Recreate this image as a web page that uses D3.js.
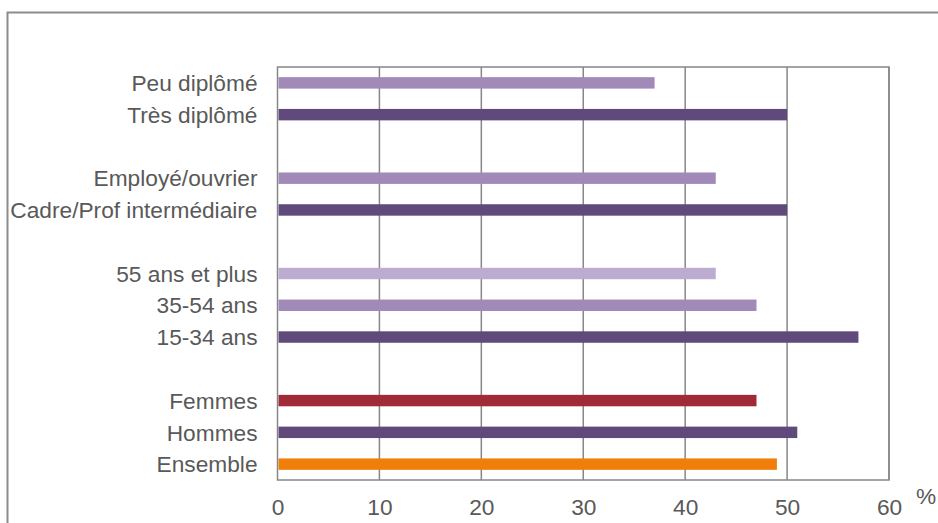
<!DOCTYPE html>
<html>
<head>
<meta charset="utf-8">
<script src="https://cdn.jsdelivr.net/npm/d3@7"></script>
<style>
  html, body { margin: 0; padding: 0; background: #fff; }
  svg { display: block; font-family: "Liberation Sans", Arial, sans-serif; }
</style>
</head>
<body>
<svg id="chart" width="938" height="523"></svg>
<script>
// Rows from top to bottom; null marks a blank spacer row between groups
const categories = ["Peu diplômé", "Très diplômé", null,
                    "Employé/ouvrier", "Cadre/Prof intermédiaire", null,
                    "55 ans et plus", "35-54 ans", "15-34 ans", null,
                    "Femmes", "Hommes", "Ensemble"];
const values =     [37, 50, null,
                    43, 50, null,
                    43, 47, 57, null,
                    47, 51, 49];
const barColors =  ["#a18ab7", "#604a7b", null,
                    "#a18ab7", "#604a7b", null,
                    "#bcadd0", "#a18ab7", "#604a7b", null,
                    "#a12a38", "#604a7b", "#f07e0a"];
const xTicks = [0, 10, 20, 30, 40, 50, 60];
const unitLabel = "%";

const svg = d3.select("#chart");
const plot = { left: 277.5, right: 889, top: 67, bottom: 480 };
const textColor = "#595959";
const lineColor = "#878787";
const fontSize = "22.7px";

// Outer frame
svg.append("rect")
  .attr("x", 7.5).attr("y", 12.5)
  .attr("width", 1000).attr("height", 600)
  .attr("fill", "none").attr("stroke", "#8c8c8c").attr("stroke-width", 2);

const x = d3.scaleLinear().domain([0, 60]).range([plot.left, plot.right]);
const y = d3.scaleBand()
  .domain(categories.map((d, i) => i))
  .range([plot.top, plot.bottom])
  .paddingInner(0.64).paddingOuter(0.32);

// Vertical gridlines
svg.append("g")
  .selectAll("line")
  .data(xTicks.slice(1))
  .join("line")
  .attr("x1", d => x(d)).attr("x2", d => x(d))
  .attr("y1", plot.top).attr("y2", plot.bottom)
  .attr("stroke", lineColor).attr("stroke-width", 1.5);

// Plot border
svg.append("rect")
  .attr("x", plot.left).attr("y", plot.top)
  .attr("width", plot.right - plot.left).attr("height", plot.bottom - plot.top)
  .attr("fill", "none").attr("stroke", lineColor).attr("stroke-width", 1.5);

// Bars
const rows = categories.map((c, i) => ({ c, v: values[i], col: barColors[i], i }))
  .filter(d => d.c !== null);

svg.append("g")
  .selectAll("rect")
  .data(rows)
  .join("rect")
  .attr("x", x(0) + 1)
  .attr("y", d => y(d.i))
  .attr("width", d => x(d.v) - x(0) - 1)
  .attr("height", y.bandwidth())
  .attr("fill", d => d.col);

// Category labels
svg.append("g")
  .selectAll("text")
  .data(rows)
  .join("text")
  .attr("x", plot.left - 20)
  .attr("y", d => y(d.i) + y.bandwidth() / 2)
  .attr("dy", "0.36em")
  .attr("text-anchor", "end")
  .attr("fill", textColor)
  .style("font-size", fontSize)
  .text(d => d.c);

// X axis labels
const xAxis = svg.append("g")
  .attr("transform", `translate(0,${plot.bottom})`)
  .call(d3.axisBottom(x).tickValues(xTicks).tickSize(0).tickPadding(19).tickFormat(d3.format("d")));
xAxis.select(".domain").remove();
xAxis.selectAll("text")
  .attr("fill", textColor)
  .style("font-size", fontSize)
  .style("font-family", "'Liberation Sans', Arial, sans-serif");

svg.append("text")
  .attr("x", 916).attr("y", 504)
  .attr("fill", textColor)
  .style("font-size", fontSize)
  .text(unitLabel);
</script>
</body>
</html>
